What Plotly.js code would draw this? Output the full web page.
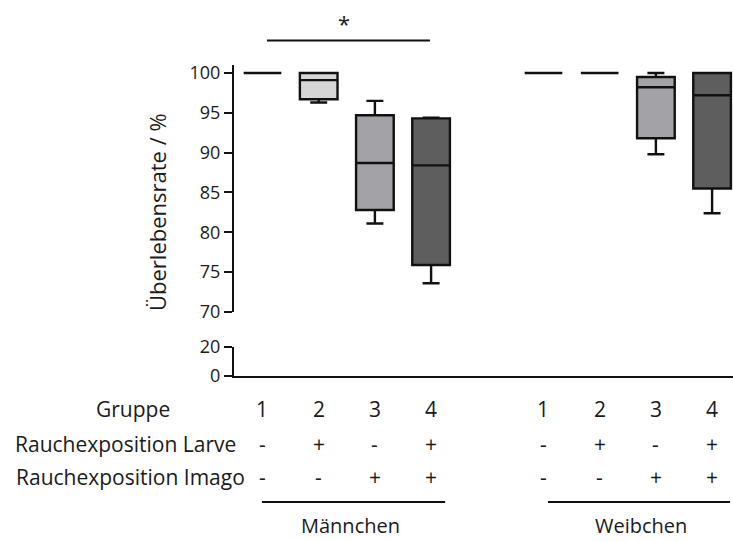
<!DOCTYPE html>
<html><head><meta charset="utf-8">
<script src="https://cdn.plot.ly/plotly-3.0.1.min.js"></script>
<style>body{margin:0;background:#fff}#c{width:733px;height:541px}</style>
</head><body><div id="c"></div>
<script>
// Data
const groups = [1, 2, 3, 4, 1, 2, 3, 4];
const xpos = [1, 2, 3, 4, 6, 7, 8, 9];
const sexes = ["Männchen", "Weibchen"];
const larve = ["-", "+", "-", "+", "-", "+", "-", "+"];
const imago = ["-", "-", "+", "+", "-", "-", "+", "+"];
const minV = [100, 96.3, 81.1, 73.6, 100, 100, 89.8, 82.4];
const q1V  = [100, 96.7, 82.8, 75.9, 100, 100, 91.8, 85.5];
const medV = [100, 99.1, 88.7, 88.4, 100, 100, 98.2, 97.2];
const q3V  = [100, 100, 94.7, 94.3, 100, 100, 99.5, 100];
const maxV = [100, 100, 96.5, 94.4, 100, 100, 100, 100];
const fills = ["#ffffff", "#d6d6d6", "#a3a3a7", "#5e5e5e", "#ffffff", "#ffffff", "#a3a3a7", "#5e5e5e"];

const FONT = "Open Sans, sans-serif";
const TXT = "#1a1a1a";
const traces = xpos.map((x, i) => ({
  type: "box",
  x: [x],
  q1: [q1V[i]], median: [medV[i]], q3: [q3V[i]],
  lowerfence: [minV[i]], upperfence: [maxV[i]],
  width: 0.67,
  whiskerwidth: 0.45,
  fillcolor: fills[i],
  line: {color: "#111", width: 2.4},
  boxpoints: false,
  hoverinfo: "skip",
  showlegend: false,
  xaxis: "x", yaxis: "y"
}));
// empty trace so the lower (broken) axis segment and the x axis are drawn
traces.push({type: "scatter", x: [], y: [], mode: "lines", xaxis: "x", yaxis: "y2", showlegend: false, hoverinfo: "skip"});

const L = 234, W = 499, B = 376, H = 311;
const px = p => (p - L) / W;
const py = p => (B - p) / H;

const ann = [];
const mk = (text, xref, x, y, size, extra) => Object.assign({text, xref, yref: "paper", x, y,
  xanchor: "center", yanchor: "middle", showarrow: false, font: {family: FONT, size: size, color: TXT}}, extra || {});
// y title
ann.push(mk("Überlebensrate / %", "paper", px(157), py(212), 22, {textangle: -90}));
// significance star
ann.push(mk("*", "x", 2.45, py(23), 22));
// row labels
const rowY = [409, 444, 477];
const rowLabels = ["Gruppe", "Rauchexposition Larve", "Rauchexposition Imago"];
const rowX = [133, 125, 130];
rowLabels.forEach((t, r) => ann.push(mk(t, "paper", px(rowX[r]), py(rowY[r]), 21)));
xpos.forEach((x, i) => {
  ann.push(mk(String(groups[i]), "x", x, py(rowY[0]), 21));
  ann.push(mk(larve[i], "x", x, py(rowY[1]), 21));
  ann.push(mk(imago[i], "x", x, py(rowY[2]), 21));
});
ann.push(mk(sexes[0], "x", 2.56, py(525), 20));
ann.push(mk(sexes[1], "x", 7.73, py(525), 20));

const shapes = [
  {type: "line", xref: "x", yref: "paper", x0: 1.08, x1: 3.98, y0: py(40.5), y1: py(40.5), line: {color: "#111", width: 2}},
  {type: "line", xref: "x", yref: "paper", x0: 0.99, x1: 4.25, y0: py(502), y1: py(502), line: {color: "#111", width: 2}},
  {type: "line", xref: "x", yref: "paper", x0: 6.08, x1: 9.32, y0: py(502), y1: py(502), line: {color: "#111", width: 2}}
];

const layout = {
  width: 733, height: 541,
  margin: {l: L, r: 0, t: 65, b: 541 - B},
  paper_bgcolor: "#fff", plot_bgcolor: "#fff",
  showlegend: false,
  xaxis: {range: [0.493, 9.372], showticklabels: false, ticks: "", showgrid: false, zeroline: false,
    showline: true, linecolor: "#111", linewidth: 2, anchor: "y2"},
  yaxis: {domain: [py(312), 1], range: [70, 101], tickvals: [70, 75, 80, 85, 90, 95, 100],
    ticks: "outside", ticklen: 8, tickwidth: 2, tickcolor: "#111", showline: true, linecolor: "#111", linewidth: 2,
    showgrid: false, zeroline: false, tickfont: {family: FONT, size: 18, color: TXT}, anchor: "x"},
  yaxis2: {domain: [0, py(347)], range: [0, 20], tickvals: [0, 20],
    ticks: "outside", ticklen: 8, tickwidth: 2, tickcolor: "#111", showline: true, linecolor: "#111", linewidth: 2,
    showgrid: false, zeroline: false, tickfont: {family: FONT, size: 18, color: TXT}, anchor: "x"},
  annotations: ann,
  shapes: shapes
};
Plotly.newPlot("c", traces, layout, {displayModeBar: false, staticPlot: true});
</script></body></html>
